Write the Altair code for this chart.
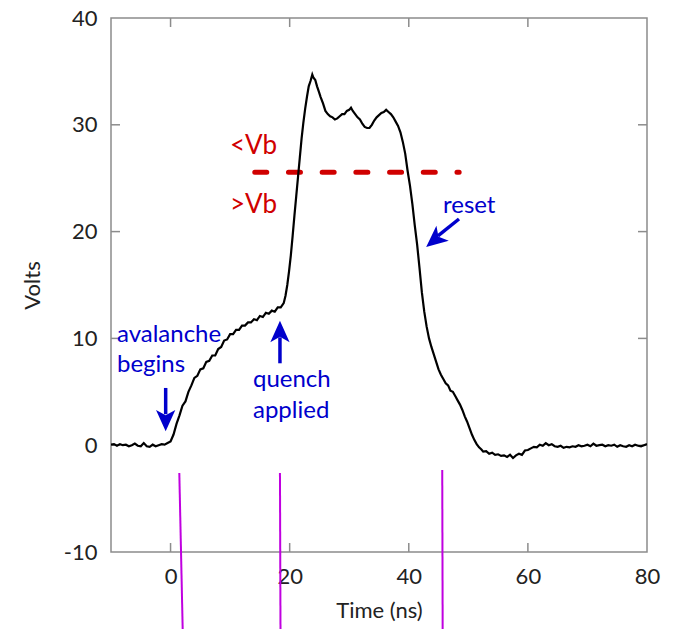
import altair as alt
import pandas as pd

# ---- trace (Time ns, Volts) ----
t_pre = [-10.0, -9.5, -9.0, -8.5, -8.0, -7.5, -7.0, -6.5, -6.0, -5.5, -5.0, -4.5,
         -4.0, -3.5, -3.0, -2.5, -2.0, -1.5, -1.0, -0.5]
v_pre = [0.05, 0.1, -0.05, 0.1, 0.0, 0.05, -0.1, 0.0, 0.15, -0.05, -0.1, 0.2,
         -0.1, -0.15, 0.05, -0.1, 0.0, 0.1, 0.05, 0.2]

t_rise = [0.0, 0.5, 1.0, 1.5, 2.0, 2.5, 3.0, 3.5, 4.0, 4.5, 5.0, 5.5, 6.0, 6.5, 7.0,
          7.5, 8.0, 8.5, 9.0, 9.5, 10.0, 10.5, 11.0, 11.5, 12.0, 12.5, 13.0, 13.5,
          14.0, 14.5, 15.0, 15.5, 16.0, 16.5, 17.0, 17.5, 18.0, 18.5, 19.0]
v_rise = [0.35, 1.0, 2.0, 2.8, 3.7, 4.1, 5.0, 5.6, 6.3, 6.5, 7.1, 7.2, 7.8, 7.9, 8.4,
          8.4, 9.0, 9.2, 9.8, 9.9, 10.4, 10.4, 10.8, 10.8, 11.2, 11.2, 11.5, 11.5,
          11.8, 11.7, 12.1, 12.0, 12.4, 12.3, 12.6, 12.5, 12.9, 12.9, 13.3]

t_pulse = [19.3, 19.6, 19.9, 20.2, 20.5, 20.8, 21.1, 21.4, 21.7, 22.0, 22.3, 22.6,
           22.9, 23.2, 23.5, 23.8, 24.0, 24.3, 24.6, 24.9, 25.2, 25.6, 26.0, 26.4,
           26.8, 27.2, 27.6, 28.0, 28.4, 28.8, 29.2, 29.6, 30.0, 30.3, 30.6, 31.0,
           31.4, 31.8, 32.2, 32.6, 33.0, 33.4, 33.8, 34.2, 34.6, 35.0, 35.4, 35.8,
           36.2, 36.6, 37.0, 37.4, 37.8, 38.2, 38.6, 39.0, 39.4, 39.8, 40.2, 40.6,
           41.0, 41.4, 41.8, 42.2, 42.6, 43.0, 43.4, 43.8, 44.2, 44.6, 45.0, 45.4,
           45.8, 46.2, 46.6, 47.0, 47.4, 47.8, 48.2, 48.6, 49.0, 49.4, 49.8, 50.2,
           50.6, 51.0, 51.4, 51.8, 52.2]
v_pulse = [14.0, 15.0, 16.3, 17.8, 19.6, 21.5, 23.3, 25.1, 26.9, 28.7, 30.2, 31.5,
           32.6, 33.6, 34.1, 34.7, 34.4, 34.2, 33.6, 33.1, 32.6, 32.0, 31.3, 31.0,
           30.8, 30.7, 30.5, 30.6, 30.8, 31.0, 31.0, 31.3, 31.4, 31.6, 31.3, 31.0,
           30.7, 30.5, 30.1, 29.8, 29.7, 29.7, 30.0, 30.4, 30.7, 30.9, 31.1, 31.2,
           31.4, 31.2, 31.0, 30.7, 30.3, 29.9, 29.3, 28.4, 27.3, 25.7, 24.3, 22.6,
           20.6, 18.8, 16.6, 14.3, 12.5, 11.1, 10.0, 9.2, 8.5, 7.8, 7.1, 6.6,
           6.2, 5.8, 5.6, 5.1, 5.0, 4.6, 4.2, 3.8, 3.3, 2.7, 2.2, 1.6,
           1.0, 0.5, 0.1, -0.2, -0.4]

t_post = [52.5, 53.0, 53.5, 54.0, 54.5, 55.0, 55.5, 56.0, 56.5, 57.0, 57.5, 58.0,
          58.5, 59.0, 59.5, 60.0, 60.5, 61.0, 61.5, 62.0, 62.5, 63.0, 63.5, 64.0,
          64.5, 65.0, 65.5, 66.0, 66.5, 67.0, 67.5, 68.0, 68.5, 69.0, 69.5, 70.0,
          70.5, 71.0, 71.5, 72.0, 72.5, 73.0, 73.5, 74.0, 74.5, 75.0, 75.5, 76.0,
          76.5, 77.0, 77.5, 78.0, 78.5, 79.0, 79.5, 80.0]
v_post = [-0.6, -0.55, -0.8, -0.7, -0.9, -0.85, -1.0, -0.95, -1.1, -0.9, -1.2, -0.95,
          -0.8, -0.9, -0.5, -0.45, -0.3, -0.15, -0.2, 0.05, -0.05, 0.2, 0.0, 0.1,
          -0.1, -0.15, -0.05, -0.25, -0.15, -0.2, -0.1, -0.15, 0.0, -0.1, -0.05, 0.05,
          -0.1, 0.15, -0.05, 0.0, 0.05, -0.1, 0.0, -0.05, 0.05, -0.15, 0.0, -0.1,
          -0.15, 0.0, -0.1, 0.05, -0.05, -0.1, 0.0, 0.1]

# ---- axes ----
x_domain = [-10, 80]
y_domain = [-10, 40]
x_ticks = [0, 20, 40, 60, 80]
y_ticks = [-10, 0, 10, 20, 30, 40]
x_inner_ticks = [0, 20, 40, 60]
y_inner_ticks = [0, 10, 20, 30]

# ---- annotations ----
vb_level = 25.55
vb_start, vb_end = 14.14, 48.46
red_labels = ["<Vb", ">Vb"]
red_x = [9.98, 9.98]
red_y = [27.27, 21.7]

blue_labels = ["avalanche", "begins", "quench", "applied", "reset"]
blue_x = [-9.0, -9.0, 13.84, 13.84, 45.74]
blue_y = [9.66, 6.9, 5.42, 2.52, 21.74]

# arrows: shaft start -> head position, head angle
arrow_x1 = [-0.82, 18.37, 48.43]
arrow_y1 = [5.36, 7.67, 21.18]
arrow_x2 = [-0.82, 18.37, 44.9]
arrow_y2 = [2.9, 10.1, 19.6]
head_x = [-0.82, 18.37, 44.3]
head_y = [2.3, 10.65, 19.2]
head_angle = [0, 180, 50]

# magenta markers
mag_x1 = [1.47, 18.37, 45.62]
mag_y1 = [-2.6, -2.6, -2.32]
mag_x2 = [2.04, 18.46, 45.69]
mag_y2 = [-17.3, -17.3, -17.3]

FONT = "Lato"
BLUE = "#0000CC"
RED = "#D00000"
MAG = "#C000E0"
GREY = "#8c8c8c"
TXT = "#222222"

trace = pd.DataFrame({"t": t_pre + t_rise + t_pulse + t_post,
                      "v": v_pre + v_rise + v_pulse + v_post})

xs = alt.Scale(domain=x_domain, nice=False, zero=False)
ys = alt.Scale(domain=y_domain, nice=False, zero=False)

W, H = 536, 534

axis_style = dict(ticks=False, domain=False, grid=False, labelFlush=False,
                  labelExpr="toString(datum.value)",
                  labelFont=FONT, labelFontSize=22, labelColor=TXT,
                  titleFont=FONT, titleFontSize=22, titleFontWeight="normal",
                  titleColor=TXT)

line = alt.Chart(trace).mark_line(color="black", strokeWidth=2.2, clip=True).encode(
    x=alt.X("t:Q", scale=xs, title="Time (ns)",
            axis=alt.Axis(values=x_ticks, labelPadding=14, titlePadding=13, **axis_style)),
    y=alt.Y("v:Q", scale=ys, title="Volts",
            axis=alt.Axis(values=y_ticks, labelPadding=14, titlePadding=19, **axis_style)),
)

xt = pd.DataFrame({"x": x_inner_ticks})
yt = pd.DataFrame({"y": y_inner_ticks})
tick_style = dict(color=GREY, strokeWidth=1.5)
xt_bottom = alt.Chart(xt).mark_rule(**tick_style).encode(
    x=alt.X("x:Q", scale=xs), y=alt.value(H), y2=alt.value(H - 9))
xt_top = alt.Chart(xt).mark_rule(**tick_style).encode(
    x=alt.X("x:Q", scale=xs), y=alt.value(0), y2=alt.value(9))
yt_left = alt.Chart(yt).mark_rule(**tick_style).encode(
    y=alt.Y("y:Q", scale=ys), x=alt.value(0), x2=alt.value(9))
yt_right = alt.Chart(yt).mark_rule(**tick_style).encode(
    y=alt.Y("y:Q", scale=ys), x=alt.value(W), x2=alt.value(W - 9))

vb = pd.DataFrame({"x1": [vb_start], "x2": [vb_end], "y": [vb_level]})
vb_line = alt.Chart(vb).mark_rule(color=RED, strokeWidth=5, strokeDash=[12, 21.7],
                                  strokeCap="round").encode(
    x=alt.X("x1:Q", scale=xs), x2="x2:Q", y=alt.Y("y:Q", scale=ys))

red_df = pd.DataFrame({"label": red_labels, "x": red_x, "y": red_y})
red_text = alt.Chart(red_df).mark_text(color=RED, font=FONT, fontSize=26, align="left",
                                       baseline="alphabetic").encode(
    x=alt.X("x:Q", scale=xs), y=alt.Y("y:Q", scale=ys), text="label:N")

blue_df = pd.DataFrame({"label": blue_labels, "x": blue_x, "y": blue_y})
blue_text = alt.Chart(blue_df).mark_text(color=BLUE, font=FONT, fontSize=24, align="left",
                                         baseline="alphabetic").encode(
    x=alt.X("x:Q", scale=xs), y=alt.Y("y:Q", scale=ys), text="label:N")

arr = pd.DataFrame({"x1": arrow_x1, "y1": arrow_y1, "x2": arrow_x2, "y2": arrow_y2,
                    "hx": head_x, "hy": head_y, "ang": head_angle})
shafts = alt.Chart(arr).mark_rule(color=BLUE, strokeWidth=3.5).encode(
    x=alt.X("x1:Q", scale=xs), y=alt.Y("y1:Q", scale=ys), x2="x2:Q", y2="y2:Q")
heads = alt.Chart(arr).mark_point(
    shape="M0,1L-0.9,-1L0,-0.5L0.9,-1Z", filled=True, color=BLUE,
    opacity=1, size=460, strokeWidth=0).encode(
    x=alt.X("hx:Q", scale=xs), y=alt.Y("hy:Q", scale=ys),
    angle=alt.Angle("ang:Q", scale=None))

mag = pd.DataFrame({"x1": mag_x1, "y1": mag_y1, "x2": mag_x2, "y2": mag_y2})
mag_lines = alt.Chart(mag).mark_rule(color=MAG, strokeWidth=2).encode(
    x=alt.X("x1:Q", scale=xs), y=alt.Y("y1:Q", scale=ys), x2="x2:Q", y2="y2:Q")

chart = alt.layer(
    mag_lines, xt_bottom, xt_top, yt_left, yt_right, vb_line, line,
    red_text, blue_text, shafts, heads
).properties(
    width=W, height=H,
    padding={"left": 111, "top": 18, "right": 30, "bottom": 77},
    autosize=alt.AutoSizeParams(type="none"),
    background="white",
).configure_view(
    stroke=GREY, strokeWidth=1.5
)

chart.save("out.html", embed_options={"renderer": "svg", "actions": False})
